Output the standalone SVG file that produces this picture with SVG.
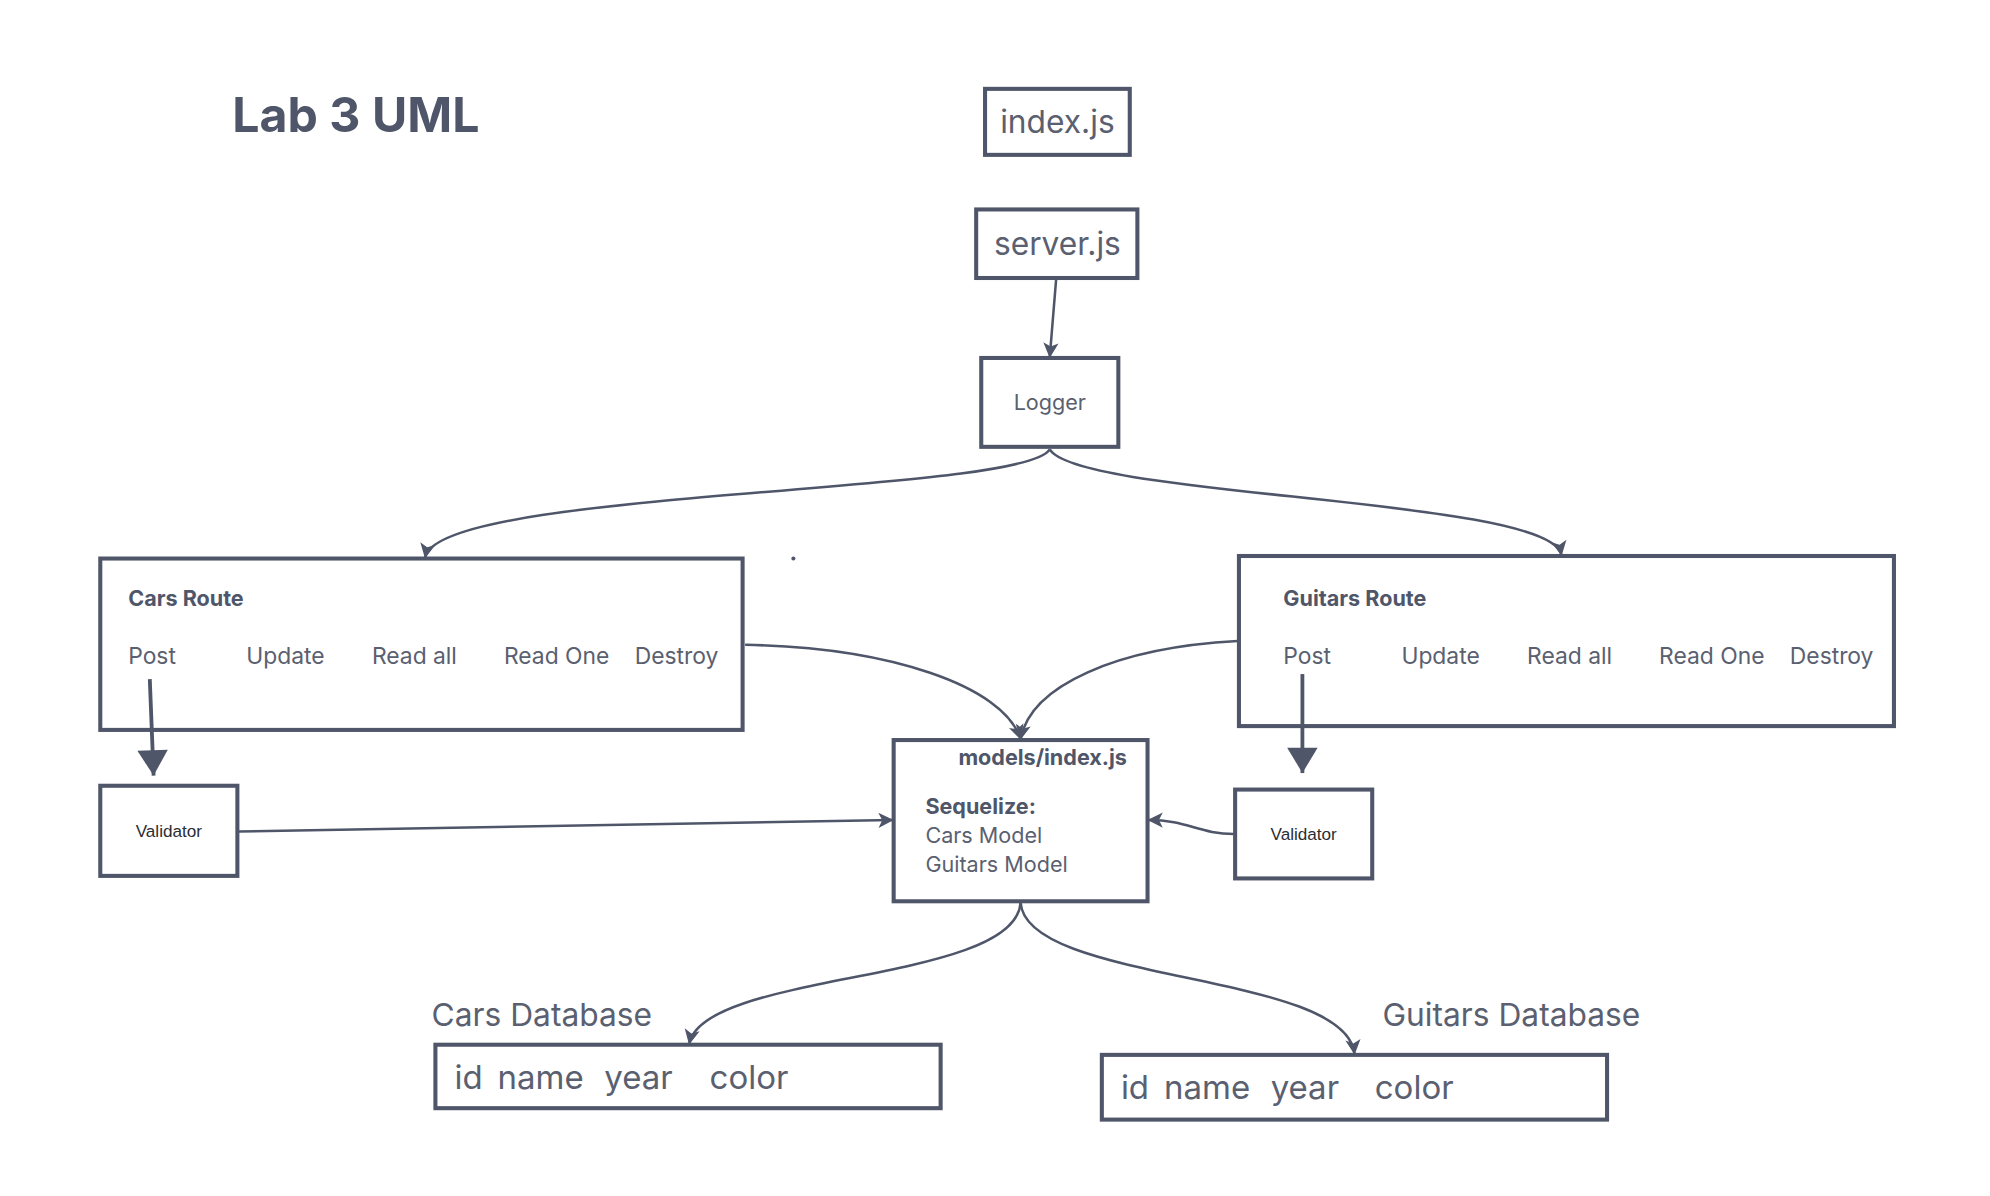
<svg xmlns="http://www.w3.org/2000/svg" width="1990" height="1196" viewBox="0 0 1990 1196">
<defs>
<style>
.box{fill:#ffffff;stroke:#4f5669;stroke-width:3.2}
.t{font-family:Inter,"Noto Sans","Liberation Sans",sans-serif;fill:#5a6070}
.b{font-weight:bold;fill:#4f5669}
.v{font-family:"Liberation Sans",Arial,sans-serif;fill:#2a2d33;font-size:13.5px}
.c{fill:none;stroke:#4f5669;stroke-width:2}
.ct{fill:none;stroke:#4f5669;stroke-width:3}
</style>
<marker id="ah" markerUnits="userSpaceOnUse" markerWidth="14" markerHeight="14" viewBox="0 0 14 14" refX="12" refY="7" orient="auto">
<path d="M1,1 L13,7 L1,13 L4,7 Z" fill="#4f5669"/>
</marker>
<marker id="big" markerUnits="userSpaceOnUse" markerWidth="26" markerHeight="26" viewBox="0 0 26 26" refX="22" refY="13" orient="auto">
<path d="M2,1 L22,13 L2,25 Z" fill="#4f5669"/>
</marker>
</defs>
<rect width="1990" height="1196" fill="#ffffff"/>
<g transform="scale(1.2694)">
<text class="t b" x="183" y="104" font-size="38">Lab 3 UML</text>

<g id="index-js">
<rect class="box" x="776" y="70" width="114" height="52"/>
<text class="t" x="833" y="105" font-size="25" text-anchor="middle">index.js</text>
</g>
<g id="server-js">
<rect class="box" x="769" y="165" width="127" height="54"/>
<text class="t" x="833" y="201" font-size="25" text-anchor="middle">server.js</text>
</g>
<g id="logger">
<rect class="box" x="773" y="282" width="108" height="70"/>
<text class="t" x="827" y="323" font-size="17" text-anchor="middle">Logger</text>
</g>
<g id="cars-route">
<rect class="box" x="79" y="440" width="506" height="135"/>
<text class="t b" x="101" y="477" font-size="17">Cars Route</text>
<text class="t" y="523" font-size="18"><tspan x="101">Post</tspan><tspan x="194">Update</tspan><tspan x="293">Read all</tspan><tspan x="397">Read One</tspan><tspan x="500">Destroy</tspan></text>
</g>
<g id="guitars-route">
<rect class="box" x="976" y="438" width="516" height="134"/>
<text class="t b" x="1011" y="477" font-size="17">Guitars Route</text>
<text class="t" y="523" font-size="18"><tspan x="1011">Post</tspan><tspan x="1104">Update</tspan><tspan x="1203">Read all</tspan><tspan x="1307">Read One</tspan><tspan x="1410">Destroy</tspan></text>
</g>
<g id="validator-cars">
<rect class="box" x="79" y="619" width="108" height="71"/>
<text class="v" x="133" y="659" text-anchor="middle">Validator</text>
</g>
<g id="validator-guitars">
<rect class="box" x="973" y="622" width="108" height="70"/>
<text class="v" x="1027" y="662" text-anchor="middle">Validator</text>
</g>
<g id="models-index">
<rect class="box" x="704" y="583" width="200" height="127"/>
<text class="t b" x="755" y="603" font-size="17">models/index.js</text>
<text class="t b" x="729" y="641" font-size="17">Sequelize:</text>
<text class="t" x="729" y="664" font-size="17">Cars Model</text>
<text class="t" x="729" y="687" font-size="17">Guitars Model</text>
</g>
<g id="cars-database">
<text class="t" x="340" y="808" font-size="25">Cars Database</text>
<rect class="box" x="343" y="823" width="398" height="50"/>
<text class="t" y="858" font-size="26"><tspan x="358">id</tspan><tspan x="392">name</tspan><tspan x="476">year</tspan><tspan x="559">color</tspan></text>
</g>
<g id="guitars-database">
<text class="t" x="1089" y="808" font-size="25">Guitars Database</text>
<rect class="box" x="868" y="831" width="398" height="51"/>
<text class="t" y="866" font-size="26"><tspan x="883">id</tspan><tspan x="917">name</tspan><tspan x="1001">year</tspan><tspan x="1083">color</tspan></text>
</g>

<g id="connectors">
<path class="c" d="M832,220 L827,281" marker-end="url(#ah)"/>
<path class="c" d="M827,354 C805,390 345,385 335,439" marker-end="url(#ah)"/>
<path class="c" d="M827,354 C850,392 1222,392 1230,437" marker-end="url(#ah)"/>
<path class="c" d="M587,508 C700,510 790,540 804,582" marker-end="url(#ah)"/>
<path class="c" d="M975,505 C880,510 812,540 804,582" marker-end="url(#ah)"/>
<path class="c" d="M188,655 L703,646" marker-end="url(#ah)"/>
<path class="c" d="M972,657 C945,657 935,646 905,646" marker-end="url(#ah)"/>
<path class="c" d="M804,711 C800,775 555,765 543,822" marker-end="url(#ah)"/>
<path class="c" d="M804,711 C808,775 1060,765 1067,830" marker-end="url(#ah)"/>
<path class="ct" d="M118,535 L121,611" marker-end="url(#big)"/>
<path class="ct" d="M1026,531 L1026,609" marker-end="url(#big)"/>
<circle cx="625" cy="440" r="1.6" fill="#4f5669"/>
</g>
</g>
</svg>
